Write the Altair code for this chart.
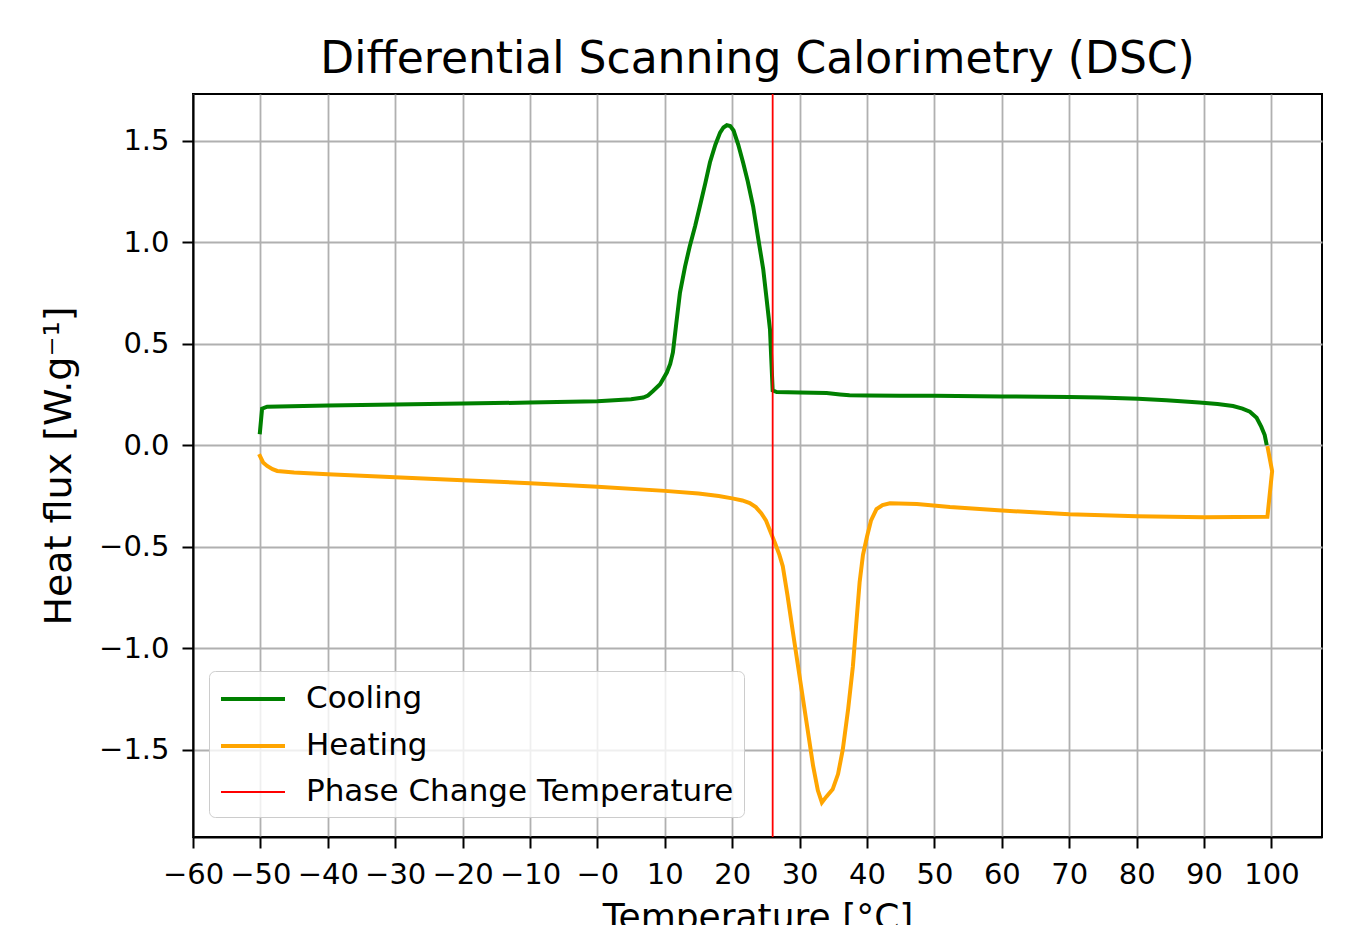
import altair as alt
import pandas as pd

# ---- data ----
cool_T = [99.3, 99.0, 98.5, 97.8, 96.8, 95.7, 94.3, 92.0, 89.3, 84.4, 80.2, 74.5, 70.0, 60.0,
          50.0, 45.0, 40.0, 37.4, 36.0, 34.0, 30.0, 26.6, 26.0, 25.8, 25.6, 25.1, 24.6, 23.8,
          23.1, 22.3, 21.6, 20.9, 20.2, 19.7, 19.2, 18.7, 18.2, 17.5, 16.7, 16.0, 15.2, 14.5,
          13.7, 13.0, 12.25, 11.7, 11.2, 10.8, 10.3, 9.3, 8.25, 7.5, 6.8, 5.0, 0.0, -10.0,
          -20.0, -30.0, -40.0, -49.0, -49.75, -50.1]
cool_Q = [0.0, 0.05, 0.09, 0.135, 0.165, 0.18, 0.193, 0.203, 0.21, 0.222, 0.229, 0.235, 0.237,
          0.24, 0.243, 0.244, 0.245, 0.246, 0.25, 0.257, 0.26, 0.262, 0.27, 0.42, 0.571, 0.72,
          0.867, 1.03, 1.177, 1.30, 1.394, 1.48, 1.55, 1.572, 1.576, 1.565, 1.54, 1.48, 1.394,
          1.29, 1.177, 1.08, 0.98, 0.88, 0.752, 0.60, 0.457, 0.40, 0.358, 0.30, 0.267, 0.245,
          0.235, 0.226, 0.217, 0.21, 0.205, 0.2, 0.196, 0.19, 0.18, 0.054]

heat_T = [-50.2, -49.6, -49.0, -48.2, -47.5, -45.0, -40.0, -30.0, -20.0, -10.0, 0.0, 10.0,
          15.0, 18.0, 20.0, 21.5, 22.6, 23.5, 24.3, 25.0, 25.6, 26.3, 27.0, 27.5, 28.2, 29.0,
          30.5, 32.0, 32.7, 33.3, 34.0, 34.9, 35.7, 36.4, 37.2, 37.9, 38.4, 38.9, 39.4, 40.0,
          40.6, 41.4, 42.3, 43.4, 47.4, 52.3, 60.0, 70.0, 80.0, 90.0, 99.4, 100.1, 99.4]
heat_Q = [-0.044, -0.085, -0.102, -0.118, -0.127, -0.135, -0.143, -0.158, -0.173, -0.187,
          -0.205, -0.225, -0.238, -0.25, -0.262, -0.272, -0.285, -0.305, -0.335, -0.37, -0.42,
          -0.478, -0.54, -0.596, -0.74, -0.92, -1.25, -1.58, -1.70, -1.76, -1.73, -1.695, -1.62,
          -1.50, -1.30, -1.09, -0.88, -0.675, -0.54, -0.45, -0.37, -0.315, -0.295, -0.286,
          -0.29, -0.305, -0.322, -0.34, -0.35, -0.355, -0.352, -0.128, -0.005]

phase_T = [26.0]

series_names = ["Cooling", "Heating", "Phase Change Temperature"]
series_colors = ["#008000", "#ffa500", "#ff0000"]
series_widths = [4.0, 4.0, 1.8]

x_ticks = [-60, -50, -40, -30, -20, -10, 0, 10, 20, 30, 40, 50, 60, 70, 80, 90, 100]
y_ticks = [-1.5, -1.0, -0.5, 0.0, 0.5, 1.0, 1.5]
x_domain = [-60, 107.5]
y_domain = [-1.93, 1.73]

# ---- tables ----
rows = []
for i, (t, q) in enumerate(zip(cool_T, cool_Q)):
    rows.append({"T": t, "Q": q, "series": series_names[0], "idx": i})
for i, (t, q) in enumerate(zip(heat_T, heat_Q)):
    rows.append({"T": t, "Q": q, "series": series_names[1], "idx": i})
curves = pd.DataFrame(rows)
phase = pd.DataFrame({"T": phase_T, "series": [series_names[2]] * len(phase_T)})

FONT = "DejaVu Sans"

color_enc = alt.Color(
    "series:N",
    scale=alt.Scale(domain=series_names, range=series_colors),
    legend=alt.Legend(title=None),
)
width_enc = alt.StrokeWidth(
    "series:N",
    scale=alt.Scale(type="ordinal", domain=series_names, range=series_widths),
    legend=alt.Legend(title=None),
)

x_enc = alt.X(
    "T:Q",
    scale=alt.Scale(domain=x_domain, nice=False, zero=False),
    axis=alt.Axis(
        values=x_ticks,
        title="Temperature [°C]",
        labelExpr="datum.value == 0 ? '\u22120' : format(datum.value, 'd')",
        titlePadding=11,
        labelPadding=12,
    ),
)
y_enc = alt.Y(
    "Q:Q",
    scale=alt.Scale(domain=y_domain, nice=False, zero=False),
    axis=alt.Axis(
        values=y_ticks,
        format=".1f",
        title="Heat flux [W.g\u207b\u00b9]",
        titlePadding=20,
        titleFontSize=38,
        labelPadding=13,
    ),
)

lines = alt.Chart(curves).mark_line(strokeWidth=series_widths[0]).encode(
    x=x_enc, y=y_enc, color=color_enc,
    order=alt.Order("idx:Q"),
)
rule = alt.Chart(phase).mark_rule().encode(
    x=alt.X("T:Q"), color=color_enc, strokeWidth=width_enc,
)

chart = (
    alt.layer(lines, rule)
    .properties(
        width=1129,
        height=743,
        title=alt.TitleParams(
            "Differential Scanning Calorimetry (DSC)",
            fontSize=44, font=FONT, fontWeight="normal", color="black",
            anchor="middle", offset=11,
        ),
        autosize=alt.AutoSizeParams(type="none"),
        padding={"left": 185, "top": 86, "right": 20, "bottom": 88},
        background="white",
    )
    .configure(font=FONT)
    .configure_view(stroke="black", strokeWidth=2)
    .configure_axis(
        labelFont=FONT, labelFontSize=29, labelColor="black",
        titleFont=FONT, titleFontSize=36, titleColor="black", titleFontWeight="normal",
        tickSize=11, tickWidth=2, tickColor="black",
        domainColor="black", domainWidth=2,
        grid=True, gridColor="#b0b0b0", gridWidth=1.8,
        labelOverlap=False, labelFlush=False, labelBound=False,
    )
    .configure_legend(
        orient="none", legendX=16, legendY=577,
        symbolType="M-1,0H3", symbolSize=1024,
        labelFont=FONT, labelFontSize=31, labelColor="black", labelOffset=51, labelLimit=800,
        padding=10, rowPadding=14,
        strokeColor="#cccccc", cornerRadius=6, fillColor="rgba(255,255,255,0.8)",
    )
)

chart.save("out.html", embed_options={"renderer": "svg", "actions": False})
